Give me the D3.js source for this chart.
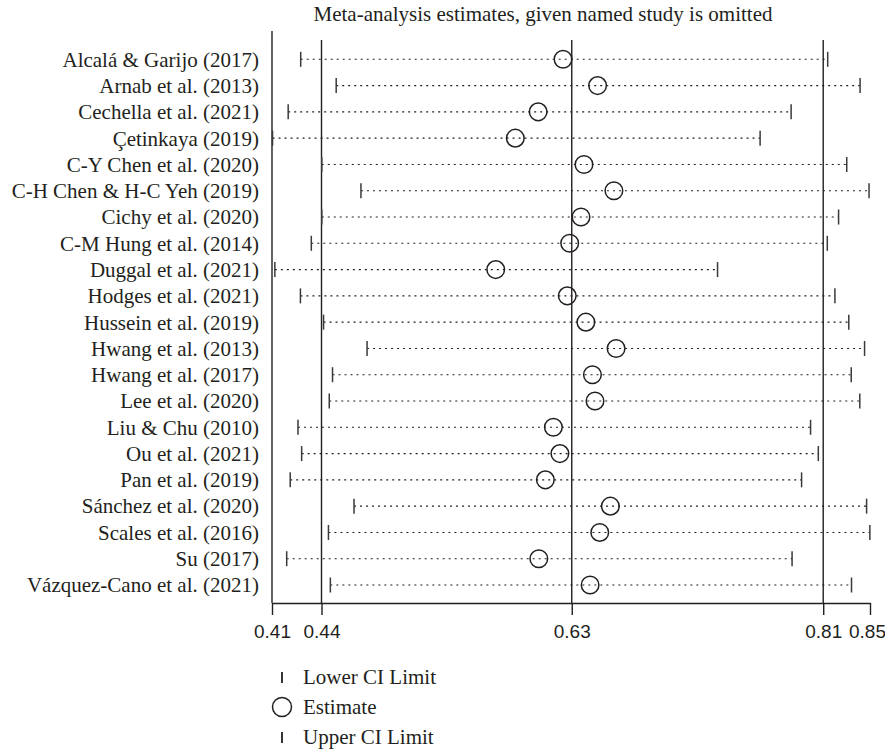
<!DOCTYPE html>
<html>
<head>
<meta charset="utf-8">
<script src="https://cdn.jsdelivr.net/npm/d3@7"></script>
<style>
  body { margin: 0; background: #fff; }
  svg { font-family: "Liberation Serif", "DejaVu Serif", serif; }
  .label { font-size: 21px; fill: #231f20; }
  .tick-label { font-size: 19px; fill: #231f20; }
</style>
</head>
<body>
<svg id="chart" width="885" height="750"></svg>
<script>
// study names, top to bottom
const studies = [
  "Alcalá & Garijo (2017)", "Arnab et al. (2013)", "Cechella et al. (2021)",
  "Çetinkaya (2019)", "C-Y Chen et al. (2020)", "C-H Chen & H-C Yeh (2019)",
  "Cichy et al. (2020)", "C-M Hung et al. (2014)", "Duggal et al. (2021)",
  "Hodges et al. (2021)", "Hussein et al. (2019)", "Hwang et al. (2013)",
  "Hwang et al. (2017)", "Lee et al. (2020)", "Liu & Chu (2010)",
  "Ou et al. (2021)", "Pan et al. (2019)", "Sánchez et al. (2020)",
  "Scales et al. (2016)", "Su (2017)", "Vázquez-Cano et al. (2021)"
];
const lowerCI = [0.4272, 0.4533, 0.4180, 0.4065, 0.4427, 0.4715, 0.4427, 0.4350, 0.4082, 0.4270, 0.4440,
                 0.4760, 0.4506, 0.4482, 0.4252, 0.4279, 0.4195, 0.4664, 0.4476, 0.4169, 0.4490];
const estimate = [0.6201, 0.6455, 0.6018, 0.5850, 0.6355, 0.6575, 0.6333, 0.6250, 0.5706, 0.6232, 0.6369,
                  0.6591, 0.6417, 0.6436, 0.6130, 0.6178, 0.6071, 0.6549, 0.6471, 0.6023, 0.6400];
const upperCI = [0.8147, 0.8385, 0.7878, 0.7650, 0.8287, 0.8451, 0.8227, 0.8144, 0.7337, 0.8200, 0.8302,
                 0.8418, 0.8320, 0.8383, 0.8021, 0.8078, 0.7955, 0.8433, 0.8457, 0.7885, 0.8322];

// axis ticks: pooled lower, estimate, upper plus the axis ends
const tickValues = [0.4061, 0.4425, 0.6265, 0.8114, 0.8458];
const tickLabels = ["0.41", "0.44", "0.63", "0.81", "0.85"];
const refLines = [0.4425, 0.6265, 0.8114];

const legendItems = ["Lower CI Limit", "Estimate", "Upper CI Limit"];

const ink = "#231f20";
const axisY = 603;
const tickLen = 12;

var svg = d3.select("#chart");

var x = d3.scaleLinear()
  .domain([tickValues[0], tickValues[tickValues.length - 1]])
  .range([272, 870]);

var y = d3.scalePoint()
  .domain(studies)
  .range([59.3, 585]);

var rows = studies.map(function(s, i) {
  return { name: s, lo: lowerCI[i], est: estimate[i], hi: upperCI[i] };
});

// title
svg.append("text")
  .attr("class", "label")
  .attr("x", 543)
  .attr("y", 21)
  .attr("text-anchor", "middle")
  .text("Meta-analysis estimates, given named study is omitted");

// left axis line
svg.append("line")
  .attr("x1", x(tickValues[0])).attr("x2", x(tickValues[0]))
  .attr("y1", 31).attr("y2", axisY)
  .attr("stroke", ink).attr("stroke-width", 1.4);

// reference lines (pooled estimate and CI)
svg.selectAll(".ref")
  .data(refLines)
  .enter().append("line")
  .attr("class", "ref")
  .attr("x1", d => x(d)).attr("x2", d => x(d))
  .attr("y1", 40).attr("y2", axisY)
  .attr("stroke", ink).attr("stroke-width", 1.4);

// x axis
var xAxis = svg.append("g")
  .attr("transform", "translate(0," + axisY + ")")
  .call(d3.axisBottom(x)
    .tickValues(tickValues)
    .tickFormat((d, i) => tickLabels[i])
    .tickSize(tickLen)
    .tickSizeOuter(0));
xAxis.select(".domain").attr("stroke", ink).attr("stroke-width", 1.4);
xAxis.selectAll(".tick line").attr("stroke", ink).attr("stroke-width", 1.4);
xAxis.selectAll(".tick text")
  .attr("class", "tick-label")
  .attr("font-family", null)
  .attr("font-size", null)
  .attr("y", tickLen + 10)
  .attr("dy", "0.71em")
  .attr("dx", (d, i) => i === tickValues.length - 1 ? -3 : 0);

// study labels
svg.selectAll(".study")
  .data(rows)
  .enter().append("text")
  .attr("class", "label study")
  .attr("x", 259)
  .attr("y", d => y(d.name))
  .attr("dy", "0.35em")
  .attr("text-anchor", "end")
  .text(d => d.name);

var g = svg.selectAll(".row")
  .data(rows)
  .enter().append("g")
  .attr("class", "row")
  .attr("transform", d => "translate(0," + y(d.name) + ")");

// dotted CI line
g.append("line")
  .attr("x1", d => x(d.lo)).attr("x2", d => x(d.hi))
  .attr("stroke", ink).attr("stroke-width", 1.1)
  .attr("stroke-dasharray", "2,4");

// caps
g.append("line")
  .attr("x1", d => x(d.lo)).attr("x2", d => x(d.lo))
  .attr("y1", -7.5).attr("y2", 7.5)
  .attr("stroke", "#3a3a3a").attr("stroke-width", 1.5);
g.append("line")
  .attr("x1", d => x(d.hi)).attr("x2", d => x(d.hi))
  .attr("y1", -7.5).attr("y2", 7.5)
  .attr("stroke", "#3a3a3a").attr("stroke-width", 1.5);

// estimate circle
g.append("circle")
  .attr("cx", d => x(d.est))
  .attr("r", 8.8)
  .attr("fill", "none")
  .attr("stroke", ink).attr("stroke-width", 1.5);

// legend
const legendX = 282;
const legendTextX = 303;
const legendY0 = 677;
const legendStep = 30;

legendItems.forEach(function(item, i) {
  var ly = legendY0 + i * legendStep;
  if (item === "Estimate") {
    svg.append("circle")
      .attr("cx", legendX).attr("cy", ly).attr("r", 9.5)
      .attr("fill", "none").attr("stroke", ink).attr("stroke-width", 1.5);
  } else {
    svg.append("line")
      .attr("x1", legendX).attr("x2", legendX)
      .attr("y1", ly - 5).attr("y2", ly + 6)
      .attr("stroke", ink).attr("stroke-width", 1.8);
  }
  svg.append("text")
    .attr("class", "label")
    .attr("x", legendTextX)
    .attr("y", ly)
    .attr("dy", "0.35em")
    .text(item);
});
</script>
</body>
</html>
